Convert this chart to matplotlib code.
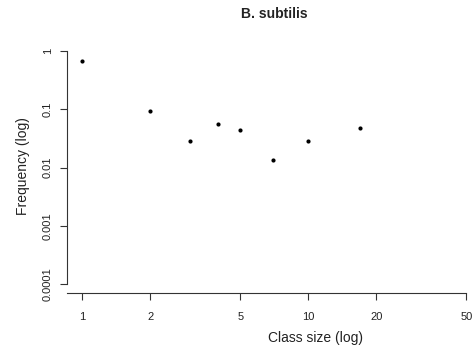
import matplotlib
matplotlib.use("Agg")
import matplotlib.pyplot as plt
import numpy as np

plt.rcParams['font.family'] = ['Liberation Sans', 'DejaVu Sans']

class_size = [1, 2, 3, 4, 5, 7, 10, 17]
frequency = [0.674, 0.0935, 0.029, 0.0566, 0.0441, 0.0135, 0.029, 0.0472]
x_ticks = [1, 2, 5, 10, 20, 50]
x_tick_labels = ["1", "2", "5", "10", "20", "50"]
y_ticks = [0.0001, 0.001, 0.01, 0.1, 1]
y_tick_labels = ["0.0001", "0.001", "0.01", "0.1", "1"]

W, H = 474, 358
fig = plt.figure(figsize=(W / 100, H / 100), dpi=100)

# axes in pixel coords
left_px, right_px, top_px, bottom_px = 67, 470, 40, 293
ax = fig.add_axes([left_px / W, 1 - bottom_px / H, (right_px - left_px) / W, (bottom_px - top_px) / H])

# mapping: x=1 -> 82.3px, decade = 226px ; y=1 -> 51px, decade = 58.3px
xdec, x1px = 226.0, 82.3
ydec, y1px = 58.3, 51.0
ax.set_xscale('log')
ax.set_yscale('log')
ax.set_xlim(10 ** ((left_px - x1px) / xdec), 10 ** ((right_px - x1px) / xdec))
ax.set_ylim(10 ** ((y1px - bottom_px) / ydec), 10 ** ((y1px - top_px) / ydec))

ax.plot(class_size, frequency, 'o', color='black', markersize=3, markeredgewidth=0)

for s in ['top', 'right']:
    ax.spines[s].set_visible(False)
ax.spines['bottom'].set_bounds(ax.get_xlim()[0], 50)
ax.spines['left'].set_bounds(0.0001, 1)
for s in ['bottom', 'left']:
    ax.spines[s].set_linewidth(0.8)
    ax.spines[s].set_color('#333333')

ax.set_xticks(x_ticks)
ax.set_xticklabels(x_tick_labels)
ax.set_yticks(y_ticks)
ax.set_yticklabels(y_tick_labels, rotation=90, va='center')
ax.minorticks_off()
ax.tick_params(axis='both', length=5, width=0.8, color='#333333', labelsize=8, labelcolor='#222222')
ax.tick_params(axis='x', pad=9)
ax.tick_params(axis='y', pad=5)

fig.text(23 / W, 1 - 166 / H, "Frequency (log)", rotation=90, ha='center', va='center', fontsize=10, color='#222222')
fig.text(315 / W, 1 - 338 / H, "Class size (log)", ha='center', va='center', fontsize=10, color='#222222')
fig.text(274 / W, 1 - 14 / H, "B. subtilis", ha='center', va='center', fontsize=10, fontweight='bold', color='#222222')

fig.savefig("out.png", dpi=100)
